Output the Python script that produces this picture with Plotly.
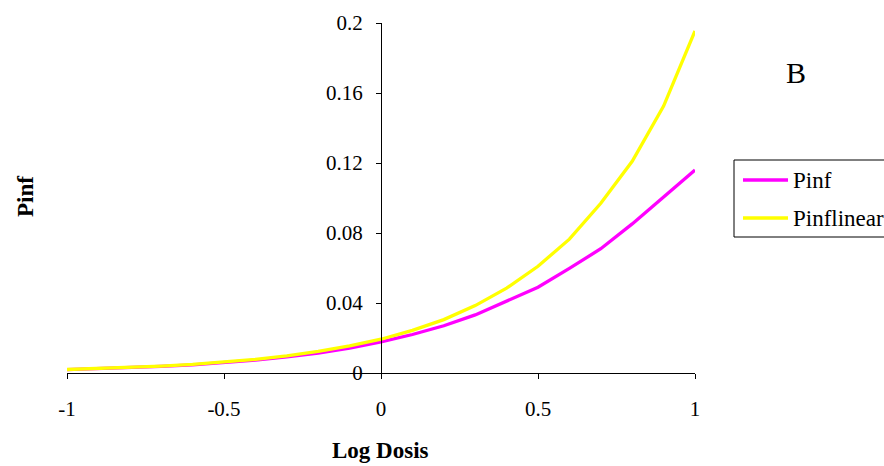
import plotly.graph_objects as go

log_dosis = [-1.0, -0.9, -0.8, -0.7, -0.6, -0.5, -0.4, -0.3, -0.2, -0.1, 0.0,
             0.1, 0.2, 0.3, 0.4, 0.5, 0.6, 0.7, 0.8, 0.9, 1.0]
pinf = [0.0019, 0.0024, 0.0030, 0.0038, 0.0047, 0.0059, 0.0074, 0.0092, 0.0114, 0.0142, 0.0178,
        0.0220, 0.0270, 0.0332, 0.0410, 0.0490, 0.0598, 0.0710, 0.0852, 0.1005, 0.1160]
pinflinear = [0.0020, 0.0025, 0.0031, 0.0039, 0.0049, 0.0062, 0.0078, 0.0098, 0.0123, 0.0155, 0.0193,
              0.0244, 0.0305, 0.0385, 0.0485, 0.0610, 0.0765, 0.0970, 0.1210, 0.1525, 0.1955]
series_names = ["Pinf", "Pinflinear"]
series_colors = ["#FF00FF", "#FFFF00"]
x_ticks = [-1, -0.5, 0, 0.5, 1]
x_labels = ["-1", "-0.5", "0", "0.5", "1"]
y_ticks = [0, 0.04, 0.08, 0.12, 0.16, 0.2]
y_labels = ["0", "0.04", "0.08", "0.12", "0.16", "0.2"]

FONT = "Liberation Serif"

W, H = 884, 466
L, T, PW, PH = 67, 23, 628, 350
R, B = W - L - PW, H - T - PH

def px(xw):
    return (xw - L) / PW

def py(yw):
    return (T + PH - yw) / PH

fig = go.Figure()
for name, vals, col in zip(series_names, [pinf, pinflinear], series_colors):
    fig.add_trace(go.Scatter(x=log_dosis, y=vals, mode="lines", name=name,
                             line=dict(color=col, width=3.3), showlegend=False))

shapes = [dict(type="rect", xref="paper", yref="paper",
               x0=px(734), x1=px(920), y0=py(237), y1=py(160),
               line=dict(color="black", width=1), fillcolor="white", layer="above")]
annotations = [
    dict(text="<b>Pinf</b>", x=px(25), y=py(197), xref="paper", yref="paper", showarrow=False,
         textangle=-90, xanchor="center", yanchor="middle", font=dict(family=FONT, size=23)),
    dict(text="<b>Log Dosis</b>", x=px(380), y=py(450), xref="paper", yref="paper", showarrow=False,
         xanchor="center", yanchor="middle", font=dict(family=FONT, size=23)),
    dict(text="B", xref="paper", yref="paper", showarrow=False,
         x=px(796), y=py(72), xanchor="center", yanchor="middle", font=dict(family=FONT, size=30)),
]
for i, (name, col) in enumerate(zip(series_names, series_colors)):
    yy = [180, 218][i]
    shapes.append(dict(type="line", xref="paper", yref="paper",
                       x0=px(743), x1=px(788), y0=py(yy), y1=py(yy),
                       line=dict(color=col, width=3.3), layer="above"))
    annotations.append(dict(text=name, xref="paper", yref="paper", showarrow=False,
                            x=px(791), y=py(yy), xanchor="left", yanchor="middle",
                            font=dict(family=FONT, size=23)))

fig.update_layout(
    width=W, height=H,
    margin=dict(l=L, r=R, t=T, b=B, autoexpand=False),
    paper_bgcolor="white", plot_bgcolor="white",
    font=dict(family=FONT, size=21, color="black"),
    showlegend=False,
    xaxis=dict(range=[-1, 1], tickvals=x_ticks, ticktext=x_labels,
               showgrid=False, zeroline=False, showline=True, linecolor="black", linewidth=1,
               ticks="outside", ticklen=5, tickcolor="black", anchor="y",
               ticklabelstandoff=12,
               tickfont=dict(family=FONT, size=21)),
    yaxis=dict(range=[0, 0.2], tickvals=y_ticks, ticktext=y_labels,
               showgrid=False, zeroline=False, showline=True, linecolor="black", linewidth=1,
               ticks="outside", ticklen=5, tickcolor="black",
               anchor="free", position=0.5, ticklabelstandoff=9,
               tickfont=dict(family=FONT, size=21)),
    shapes=shapes,
    annotations=annotations,
)

fig.write_html("out.html", config={"displayModeBar": False},
               post_script="document.body.style.margin='0';document.body.style.overflow='hidden';")
